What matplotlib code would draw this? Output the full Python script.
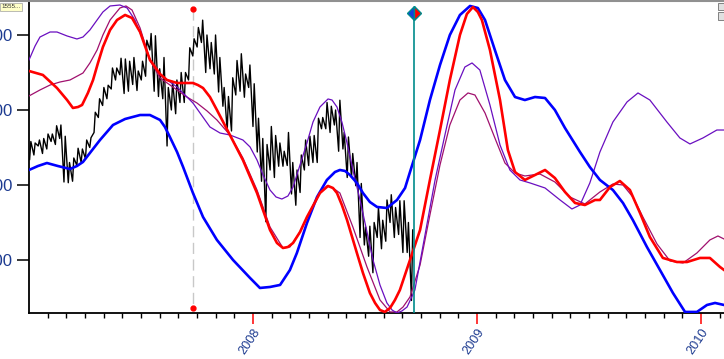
import numpy as np
import pandas as pd
import matplotlib
matplotlib.use("Agg")
import matplotlib.pyplot as plt
from matplotlib.lines import Line2D
from matplotlib.patches import Rectangle

plt.rcParams['font.family'] = ['Liberation Sans', 'DejaVu Sans']

# ---------------- data ----------------
# weekly low / high of the index (weeks starting 2007-01-01)
week_low = [12340, 12400, 12520, 12420, 12480, 12580, 12540, 12620, 12040, 12030,
            12050, 12260, 12300, 12350, 12500, 12700, 12900, 13060, 13150, 13280,
            13400, 13470, 13220, 13250, 13340, 13260, 13400, 13450, 13800, 13250,
            13180, 13150, 12520, 13000, 12950, 13100, 13100, 13400, 13720, 13840,
            13900, 13500, 13550, 13480, 13240, 13050, 12720, 12720, 13200, 13250,
            13170, 13300, 12780, 12440, 12050, 11510, 12200, 12100, 12250, 12250,
            12260, 11880, 11730, 11900, 12200, 12260, 12300, 12300, 12750, 12750,
            12700, 12800, 12450, 12480, 12100, 12100, 11990, 11300, 11200, 11050,
            10830, 11300, 11150, 11250, 11500, 11300, 11340, 11100, 11100, 10460]
week_high = [12580, 12560, 12600, 12620, 12680, 12680, 12790, 12800, 12650, 12300,
             12360, 12490, 12480, 12600, 12630, 12970, 13150, 13300, 13330, 13560,
             13560, 13690, 13680, 13650, 13700, 13520, 13650, 13930, 14020, 13990,
             13550, 13700, 13300, 13380, 13400, 13500, 13500, 13830, 13950, 14100,
             14198, 14000, 13900, 14000, 13700, 13300, 13180, 13430, 13660, 13750,
             13480, 13600, 13350, 12890, 12620, 12540, 12780, 12660, 12560, 12450,
             12700, 12300, 12200, 12400, 12600, 12650, 12660, 12890, 12900, 13100,
             13050, 13000, 13130, 12700, 12640, 12420, 12300, 12020, 11440, 11450,
             11500, 11700, 11530, 11800, 11870, 11700, 11790, 11790, 11500, 11400]

# smoothed cycle curves: (decimal year, value)
blue_t = [2007.000, 2007.040, 2007.080, 2007.129, 2007.183, 2007.214, 2007.241, 2007.272,
          2007.317, 2007.375, 2007.429, 2007.496, 2007.540, 2007.585, 2007.607, 2007.629,
          2007.661, 2007.688, 2007.732, 2007.777, 2007.839, 2007.911, 2007.987, 2008.031,
          2008.076, 2008.121, 2008.165, 2008.196, 2008.241, 2008.286, 2008.330, 2008.366,
          2008.388, 2008.411, 2008.433, 2008.464, 2008.491, 2008.522, 2008.554, 2008.598,
          2008.643, 2008.679, 2008.701, 2008.746, 2008.790, 2008.835, 2008.879, 2008.924,
          2008.969, 2009.004, 2009.036, 2009.080, 2009.125, 2009.170, 2009.214, 2009.259,
          2009.304, 2009.348, 2009.393, 2009.460, 2009.504, 2009.549, 2009.607, 2009.652,
          2009.696, 2009.759, 2009.817, 2009.875, 2009.929, 2009.982, 2010.027, 2010.063,
          2010.103]
blue_v = [12200, 12253, 12293, 12253, 12213, 12253, 12307, 12427,
          12600, 12800, 12880, 12933, 12933, 12867, 12773, 12640,
          12440, 12240, 11893, 11573, 11267, 11000, 10760, 10627,
          10640, 10667, 10867, 11093, 11493, 11840, 12067, 12173,
          12200, 12187, 12133, 12027, 11893, 11773, 11707, 11693,
          11800, 11960, 12173, 12600, 13133, 13600, 14000, 14267,
          14387, 14360, 14200, 13800, 13400, 13173, 13133, 13173,
          13160, 13000, 12760, 12440, 12240, 12067, 11933, 11760,
          11533, 11173, 10867, 10560, 10307, 10307, 10400, 10427,
          10400]

red_t = [2007.000, 2007.062, 2007.125, 2007.170, 2007.196, 2007.219, 2007.237, 2007.263,
         2007.286, 2007.308, 2007.330, 2007.362, 2007.393, 2007.429, 2007.460, 2007.496,
         2007.540, 2007.585, 2007.616, 2007.661, 2007.696, 2007.732, 2007.754, 2007.777,
         2007.808, 2007.839, 2007.897, 2007.955, 2008.018, 2008.076, 2008.107, 2008.134,
         2008.156, 2008.179, 2008.210, 2008.241, 2008.299, 2008.335, 2008.357, 2008.375,
         2008.397, 2008.420, 2008.464, 2008.491, 2008.522, 2008.545, 2008.567, 2008.589,
         2008.612, 2008.634, 2008.656, 2008.701, 2008.746, 2008.790, 2008.835, 2008.879,
         2008.924, 2008.955, 2008.982, 2009.004, 2009.022, 2009.058, 2009.103, 2009.138,
         2009.170, 2009.214, 2009.259, 2009.304, 2009.348, 2009.393, 2009.438, 2009.482,
         2009.527, 2009.549, 2009.594, 2009.638, 2009.683, 2009.728, 2009.772, 2009.830,
         2009.893, 2009.938, 2009.996, 2010.040, 2010.085, 2010.103]
red_v = [13520, 13467, 13293, 13133, 13027, 13040, 13067, 13227,
         13400, 13627, 13840, 14067, 14200, 14267, 14227, 14040,
         13667, 13480, 13400, 13360, 13360, 13360, 13333, 13293,
         13173, 13000, 12667, 12333, 11893, 11400, 11227, 11160,
         11173, 11227, 11373, 11573, 11893, 11987, 11960, 11893,
         11733, 11533, 11093, 10827, 10560, 10427, 10333, 10307,
         10360, 10467, 10600, 11000, 11400, 12067, 12733, 13400,
         14000, 14280, 14373, 14307, 14200, 13800, 13133, 12467,
         12173, 12067, 12133, 12200, 12093, 11907, 11760, 11733,
         11800, 11800, 11973, 12053, 11933, 11627, 11307, 11027,
         10973, 10973, 11027, 11027, 10907, 10867]

mag_t = [2007.000, 2007.049, 2007.094, 2007.138, 2007.183, 2007.241, 2007.272, 2007.304,
         2007.330, 2007.362, 2007.406, 2007.433, 2007.460, 2007.496, 2007.540, 2007.585,
         2007.661, 2007.705, 2007.750, 2007.795, 2007.839, 2007.897, 2007.955, 2008.018,
         2008.076, 2008.134, 2008.165, 2008.210, 2008.241, 2008.299, 2008.330, 2008.357,
         2008.388, 2008.446, 2008.509, 2008.567, 2008.612, 2008.643, 2008.670, 2008.701,
         2008.746, 2008.790, 2008.835, 2008.879, 2008.924, 2008.960, 2008.991, 2009.036,
         2009.080, 2009.125, 2009.170, 2009.214, 2009.281, 2009.348, 2009.415, 2009.482,
         2009.549, 2009.607, 2009.652, 2009.696, 2009.741, 2009.804, 2009.862, 2009.920,
         2009.982, 2010.040, 2010.076, 2010.103]
mag_v = [13187, 13267, 13333, 13373, 13400, 13493, 13627, 13800,
         14000, 14200, 14360, 14387, 14333, 14093, 13667, 13427,
         13267, 13173, 13093, 12987, 12867, 12667, 12360, 11933,
         11440, 11160, 11173, 11373, 11573, 11893, 11987, 11960,
         11893, 11440, 10907, 10467, 10307, 10307, 10373, 10507,
         10933, 11600, 12267, 12800, 13133, 13227, 13200, 12960,
         12627, 12293, 12160, 12120, 12147, 12040, 11840, 11747,
         11907, 12013, 12000, 11840, 11573, 11213, 10987, 10960,
         11093, 11267, 11320, 11280]

pur_t = [2007.000, 2007.027, 2007.049, 2007.094, 2007.125, 2007.170, 2007.214, 2007.241,
         2007.272, 2007.304, 2007.330, 2007.362, 2007.406, 2007.438, 2007.473, 2007.509,
         2007.540, 2007.585, 2007.661, 2007.732, 2007.808, 2007.853, 2007.897, 2007.955,
         2007.987, 2008.018, 2008.045, 2008.076, 2008.103, 2008.129, 2008.156, 2008.179,
         2008.210, 2008.241, 2008.268, 2008.299, 2008.335, 2008.353, 2008.375, 2008.397,
         2008.420, 2008.446, 2008.478, 2008.509, 2008.536, 2008.567, 2008.598, 2008.621,
         2008.643, 2008.665, 2008.688, 2008.723, 2008.768, 2008.813, 2008.857, 2008.902,
         2008.946, 2008.978, 2009.013, 2009.058, 2009.103, 2009.147, 2009.192, 2009.237,
         2009.304, 2009.371, 2009.424, 2009.460, 2009.504, 2009.549, 2009.607, 2009.670,
         2009.719, 2009.772, 2009.848, 2009.906, 2009.951, 2010.009, 2010.071, 2010.103]
pur_v = [13667, 13853, 13973, 14040, 14040, 13987, 13947, 13973,
         14067, 14200, 14307, 14387, 14400, 14360, 14200, 13933,
         13667, 13467, 13307, 13093, 12773, 12693, 12667, 12600,
         12507, 12333, 12133, 11933, 11840, 11813, 11853, 11973,
         12267, 12560, 12840, 13040, 13147, 13133, 13040, 12840,
         12560, 12200, 11800, 11373, 11000, 10667, 10427, 10333,
         10293, 10320, 10373, 10600, 11333, 12067, 12667, 13267,
         13573, 13627, 13533, 13067, 12533, 12200, 12067, 12027,
         11960, 11800, 11680, 11733, 12027, 12440, 12840, 13107,
         13227, 13133, 12840, 12627, 12547, 12627, 12733, 12733]

# markers
peak_t = 2007.732
peak_top, peak_bottom = 14347, 10360
now_t = 2008.719
now_top = 14293

year_ticks = [2008, 2009, 2010]
year_labels = ["2008", "2009", "2010"]
y_ticks = [11000, 12000, 13000, 14000]
y_labels = ["11000", "12000", "13000", "14000"]

# ---------------- drawing ----------------
fig = plt.figure(figsize=(7.24, 3.59), dpi=100)
ax = fig.add_axes([29 / 724, 1 - 313 / 359, 1 - 29 / 724, 311 / 359])

def dec_year(d):
    days = 366 if d.is_leap_year else 365
    return d.year + (d.dayofyear - 1) / days

weeks = pd.date_range("2007-01-01", periods=len(week_low), freq="7D")
bt, bv = [], []
for w, lo, hi in zip(weeks, week_low, week_high):
    bt += [dec_year(w + pd.Timedelta(days=1)), dec_year(w + pd.Timedelta(days=3))]
    bv += [lo, hi]
ax.plot(bt, bv, color="black", lw=1.0, zorder=2)

ax.plot(blue_t, blue_v, color="#0000ff", lw=1.9, zorder=4)
ax.plot(red_t, red_v, color="#ff0000", lw=1.9, zorder=5)
ax.plot(mag_t, mag_v, color="#a0106e", lw=0.9, zorder=3)
ax.plot(pur_t, pur_v, color="#6a0fc0", lw=0.9, zorder=3)

ax.plot([peak_t, peak_t], [peak_top, peak_bottom], color="#c8c8c8", lw=1.0,
        ls=(0, (8, 4)), zorder=1)
ax.plot([peak_t, peak_t], [peak_top, peak_bottom], ls="none", marker="o",
        ms=3.5, color="#ff0000", zorder=6)

ax.plot([now_t, now_t], [now_top, 10293], color="#008b8b", lw=1.2, zorder=6)
ax.plot([now_t], [now_top], marker="D", ms=7, fillstyle="left",
        markerfacecolor="#1040e0", markerfacecoloralt="#ff0000",
        markeredgecolor="#008b8b", markeredgewidth=1.0, zorder=7)

ax.set_xlim(2007.0, 2010.103)
ax.set_ylim(10293, 14440)

ax.spines["top"].set_visible(False)
ax.spines["right"].set_visible(False)
ax.spines["left"].set_linewidth(1.3)
ax.spines["bottom"].set_linewidth(1.3)

ax.set_yticks(y_ticks)
ax.set_yticklabels(y_labels)
ax.tick_params(axis="y", length=8.5, width=1.1, color="black", pad=3,
               labelsize=12, labelcolor="#1c3a90")

ax.set_xticks(year_ticks)
ax.set_xticklabels(year_labels, rotation=56, ha="right", va="top",
                   rotation_mode="anchor")
ax.set_xticks([y + m / 12 for y in (2007, 2008, 2009, 2010) for m in range(1, 12)
               if y + m / 12 < 2010.103], minor=True)
ax.tick_params(axis="x", which="major", length=8, width=1.1, color="#ff0000",
               pad=1.5, labelsize=9.2, labelcolor="#1c3a90")
ax.tick_params(axis="x", which="minor", length=3.5, width=1.0, color="black")

# frame line at top and small widgets
fig.add_artist(Line2D([0, 1], [1 - 1 / 359, 1 - 1 / 359], color="#909090",
                      lw=1.5, transform=fig.transFigure))
fig.add_artist(Rectangle((718 / 724, 1 - 10 / 359), 6 / 724, 7 / 359,
                         transform=fig.transFigure, facecolor="#e0e0e0",
                         edgecolor="#707070", lw=0.6))
fig.add_artist(Rectangle((718 / 724, 1 - 20 / 359), 6 / 724, 8 / 359,
                         transform=fig.transFigure, facecolor="#e0e0e0",
                         edgecolor="#707070", lw=0.6))
fig.text(0.002, 1 - 7 / 359, "1555...", fontsize=4.5, ha="left", va="center",
         color="#303030",
         bbox=dict(boxstyle="square,pad=0.25", facecolor="#ffffc8",
                   edgecolor="#a0a0a0", lw=0.5))

fig.savefig("out.png", dpi=100)
